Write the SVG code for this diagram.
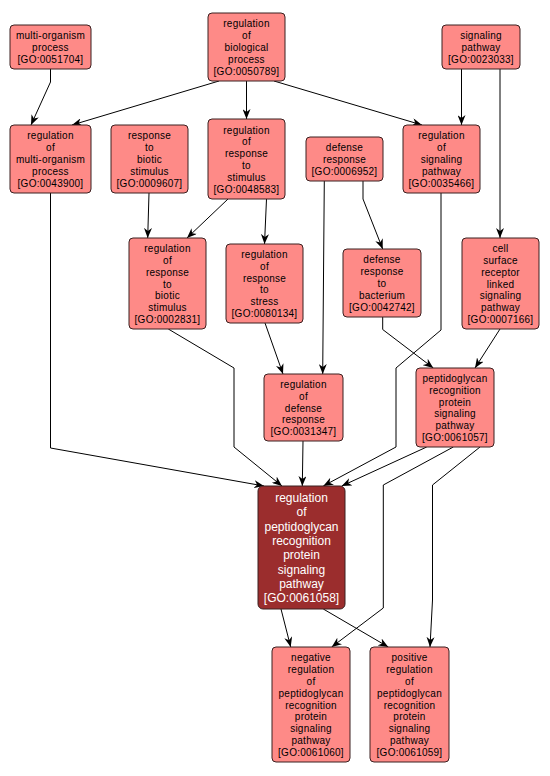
<svg xmlns="http://www.w3.org/2000/svg" width="550" height="776" viewBox="0 0 550 776">
<style>
.n rect{fill:#fe8a87;stroke:#3a2020;stroke-width:1}
.n text{font-family:"Liberation Sans",Arial,sans-serif;font-size:10px;letter-spacing:0.25px;fill:#000;text-anchor:middle}
.m rect{fill:#9b2d2d;stroke:#3a2020;stroke-width:1}
.m text{font-family:"Liberation Sans",Arial,sans-serif;font-size:12px;fill:#fff;text-anchor:middle}
.e path{fill:none;stroke:#000;stroke-width:1;marker-end:url(#a)}
</style>
<defs>
<marker id="a" viewBox="0 0 10 8" refX="10" refY="4" markerWidth="10" markerHeight="8" markerUnits="userSpaceOnUse" orient="auto">
<path d="M0,0 L10,4 L0,8 L3,4 z" fill="#000"/>
</marker>
</defs>
<rect width="550" height="776" fill="#fff"/>
<g id="edges" class="e">
<path d="M50.5,69 L50.5,82 L31,125"/>
<path d="M219,81 L72,125"/>
<path d="M246.5,81 L246.5,119"/>
<path d="M274,81 L422,125"/>
<path d="M461.5,69 L461.5,125"/>
<path d="M500,69 L500,238"/>
<path d="M149,193 L147.7,238"/>
<path d="M228,199 L187,238"/>
<path d="M266.5,199 L264.5,244"/>
<path d="M363,181 L363,199 L382.7,249"/>
<path d="M324.3,181 L322.7,374"/>
<path d="M265,323 L283,374"/>
<path d="M168.3,329 L234,368 L234,447 L282,486"/>
<path d="M50.5,193 L50.5,448 L264,486"/>
<path d="M303,441 L302.3,486"/>
<path d="M441,193 L441,330 L396,368 L396,447 L323.3,486"/>
<path d="M382.7,317 L382.7,329.5 L433.3,368"/>
<path d="M500,329 L475,368"/>
<path d="M426.7,447 L341.7,486"/>
<path d="M453.3,447 L383.3,485 L383.3,608 L331.7,647"/>
<path d="M480,447 L432.5,485 L432.5,600 L430,647"/>
<path d="M281,609 L290.7,647"/>
<path d="M323.3,609 L388.3,647"/>
</g>
<g id="GO0051704" class="n"><rect x="10" y="25" width="81" height="44" rx="4"/>
<text x="50.5" y="39.2">multi-organism</text><text x="50.5" y="51">process</text><text x="50.5" y="62.8">[GO:0051704]</text></g>
<g id="GO0050789" class="n"><rect x="208" y="13" width="77" height="68" rx="4"/>
<text x="246.5" y="27.4">regulation</text><text x="246.5" y="39.2">of</text><text x="246.5" y="51">biological</text><text x="246.5" y="62.8">process</text><text x="246.5" y="74.6">[GO:0050789]</text></g>
<g id="GO0023033" class="n"><rect x="442" y="25" width="78" height="44" rx="4"/>
<text x="481" y="39.2">signaling</text><text x="481" y="51">pathway</text><text x="481" y="62.8">[GO:0023033]</text></g>
<g id="GO0043900" class="n"><rect x="10" y="125" width="81" height="68" rx="4"/>
<text x="50.5" y="139.4">regulation</text><text x="50.5" y="151.2">of</text><text x="50.5" y="163">multi-organism</text><text x="50.5" y="174.8">process</text><text x="50.5" y="186.6">[GO:0043900]</text></g>
<g id="GO0009607" class="n"><rect x="111" y="125" width="77" height="68" rx="4"/>
<text x="149.5" y="139.4">response</text><text x="149.5" y="151.2">to</text><text x="149.5" y="163">biotic</text><text x="149.5" y="174.8">stimulus</text><text x="149.5" y="186.6">[GO:0009607]</text></g>
<g id="GO0048583" class="n"><rect x="208" y="119" width="77" height="80" rx="4"/>
<text x="246.5" y="133.5">regulation</text><text x="246.5" y="145.3">of</text><text x="246.5" y="157.1">response</text><text x="246.5" y="168.9">to</text><text x="246.5" y="180.7">stimulus</text><text x="246.5" y="192.5">[GO:0048583]</text></g>
<g id="GO0006952" class="n"><rect x="306" y="137" width="77" height="44" rx="4"/>
<text x="344.5" y="151.2">defense</text><text x="344.5" y="163">response</text><text x="344.5" y="174.8">[GO:0006952]</text></g>
<g id="GO0035466" class="n"><rect x="403" y="125" width="77" height="68" rx="4"/>
<text x="441.5" y="139.4">regulation</text><text x="441.5" y="151.2">of</text><text x="441.5" y="163">signaling</text><text x="441.5" y="174.8">pathway</text><text x="441.5" y="186.6">[GO:0035466]</text></g>
<g id="GO0002831" class="n"><rect x="129" y="238" width="77" height="91" rx="4"/>
<text x="167.5" y="252.1">regulation</text><text x="167.5" y="263.9">of</text><text x="167.5" y="275.7">response</text><text x="167.5" y="287.5">to</text><text x="167.5" y="299.3">biotic</text><text x="167.5" y="311.1">stimulus</text><text x="167.5" y="322.9">[GO:0002831]</text></g>
<g id="GO0080134" class="n"><rect x="226" y="244" width="77" height="79" rx="4"/>
<text x="264.5" y="258">regulation</text><text x="264.5" y="269.8">of</text><text x="264.5" y="281.6">response</text><text x="264.5" y="293.4">to</text><text x="264.5" y="305.2">stress</text><text x="264.5" y="317">[GO:0080134]</text></g>
<g id="GO0042742" class="n"><rect x="343" y="249" width="78" height="68" rx="4"/>
<text x="382" y="263.4">defense</text><text x="382" y="275.2">response</text><text x="382" y="287">to</text><text x="382" y="298.8">bacterium</text><text x="382" y="310.6">[GO:0042742]</text></g>
<g id="GO0007166" class="n"><rect x="462" y="238" width="77" height="91" rx="4"/>
<text x="500.5" y="252.1">cell</text><text x="500.5" y="263.9">surface</text><text x="500.5" y="275.7">receptor</text><text x="500.5" y="287.5">linked</text><text x="500.5" y="299.3">signaling</text><text x="500.5" y="311.1">pathway</text><text x="500.5" y="322.9">[GO:0007166]</text></g>
<g id="GO0031347" class="n"><rect x="264" y="374" width="79" height="67" rx="4"/>
<text x="303.5" y="388">regulation</text><text x="303.5" y="399.8">of</text><text x="303.5" y="411.6">defense</text><text x="303.5" y="423.4">response</text><text x="303.5" y="435.2">[GO:0031347]</text></g>
<g id="GO0061057" class="n"><rect x="416" y="368" width="78" height="79" rx="4"/>
<text x="455" y="382">peptidoglycan</text><text x="455" y="393.8">recognition</text><text x="455" y="405.6">protein</text><text x="455" y="417.4">signaling</text><text x="455" y="429.2">pathway</text><text x="455" y="441">[GO:0061057]</text></g>
<g id="GO0061058" class="m"><rect x="258" y="486" width="87" height="123" rx="5"/>
<text x="301.5" y="502">regulation</text><text x="301.5" y="516.3">of</text><text x="301.5" y="530.6">peptidoglycan</text><text x="301.5" y="544.9">recognition</text><text x="301.5" y="559.2">protein</text><text x="301.5" y="573.5">signaling</text><text x="301.5" y="587.8">pathway</text><text x="301.5" y="602.1">[GO:0061058]</text></g>
<g id="GO0061060" class="n"><rect x="272" y="647" width="78" height="115" rx="4"/>
<text x="311" y="661.3">negative</text><text x="311" y="673.1">regulation</text><text x="311" y="684.9">of</text><text x="311" y="696.7">peptidoglycan</text><text x="311" y="708.5">recognition</text><text x="311" y="720.3">protein</text><text x="311" y="732.1">signaling</text><text x="311" y="743.9">pathway</text><text x="311" y="755.7">[GO:0061060]</text></g>
<g id="GO0061059" class="n"><rect x="370" y="647" width="79" height="115" rx="4"/>
<text x="409.5" y="661.3">positive</text><text x="409.5" y="673.1">regulation</text><text x="409.5" y="684.9">of</text><text x="409.5" y="696.7">peptidoglycan</text><text x="409.5" y="708.5">recognition</text><text x="409.5" y="720.3">protein</text><text x="409.5" y="732.1">signaling</text><text x="409.5" y="743.9">pathway</text><text x="409.5" y="755.7">[GO:0061059]</text></g>
</svg>
